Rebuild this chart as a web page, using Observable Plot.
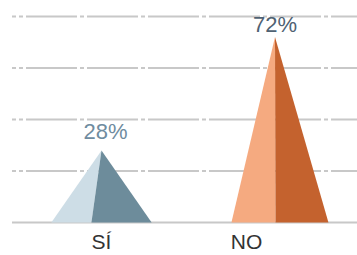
<!DOCTYPE html>
<html>
<head>
<meta charset="utf-8">
<script src="https://cdn.jsdelivr.net/npm/d3@7"></script>
<script src="https://cdn.jsdelivr.net/npm/@observablehq/plot@0.6"></script>
<style>
  html, body { margin: 0; padding: 0; background: #ffffff; }
  #chart svg { display: block; }
</style>
</head>
<body>
<div id="chart"></div>
<script>
// ---- data ----
const categories = ["SÍ", "NO"];
const values = [28, 72];
const valueLabels = ["28%", "72%"];
const gridTicks = [20, 40, 60, 80];

// ---- style ----
const lightColors = ["#cddde6", "#f5aa80"];
const darkColors = ["#6d8c9b", "#c4622e"];
const pctColors = ["#6f8ca0", "#4f6273"];
// shape geometry in x-scale units relative to each category centre
const shapeLeft = [-0.289, -0.251];
const shapeRight = [0.289, 0.308];
const shapeSplit = [-0.058, 0.003];
const catLabelShift = [0, -0.164];
const pctShift = [0.023, 0];
const pctDy = [-11, -5];

const polys = [];
categories.forEach((c, i) => {
  const cx = i + 0.5, v = values[i];
  polys.push({id: c + "-L", x: cx + shapeLeft[i], y: 0, fill: lightColors[i]});
  polys.push({id: c + "-L", x: cx, y: v, fill: lightColors[i]});
  polys.push({id: c + "-L", x: cx + shapeSplit[i], y: 0, fill: lightColors[i]});
  polys.push({id: c + "-R", x: cx + shapeSplit[i], y: 0, fill: darkColors[i]});
  polys.push({id: c + "-R", x: cx, y: v, fill: darkColors[i]});
  polys.push({id: c + "-R", x: cx + shapeRight[i], y: 0, fill: darkColors[i]});
});

const catData = categories.map((c, i) => ({c, x: i + 0.5 + catLabelShift[i]}));
const pctData = categories.map((c, i) => ({
  t: valueLabels[i], x: i + 0.5 + pctShift[i], y: values[i], color: pctColors[i], dy: pctDy[i]
}));

const chart = Plot.plot({
  width: 357,
  height: 255,
  marginLeft: 12,
  marginRight: 0,
  marginTop: 0,
  marginBottom: 0,
  x: {domain: [0, 2], range: [14.25, 361.25], axis: null},
  y: {domain: [0, 80], range: [222, 16], axis: null},
  style: {fontFamily: "'Liberation Sans', Arial, sans-serif", background: "#ffffff"},
  marks: [
    Plot.ruleY(gridTicks, {stroke: "#c8c8c8", strokeWidth: 2, strokeDasharray: "51,3,4,3", strokeDashoffset: 47}),
    Plot.ruleY([0], {stroke: "#c8c8c8", strokeWidth: 2}),
    Plot.line(polys, {x: "x", y: "y", z: "id", fill: "fill", stroke: null, curve: "linear-closed"}),
    Plot.text(catData, {x: "x", y: () => 0, text: "c", dy: 20, fontSize: 21, fill: "#333333", lineAnchor: "middle"}),
    ...pctData.map(d => Plot.text([d], {x: "x", y: "y", text: "t", dy: d.dy, fontSize: 22, fill: d.color, lineAnchor: "bottom"}))
  ]
});
document.getElementById("chart").appendChild(chart);
</script>
</body>
</html>
